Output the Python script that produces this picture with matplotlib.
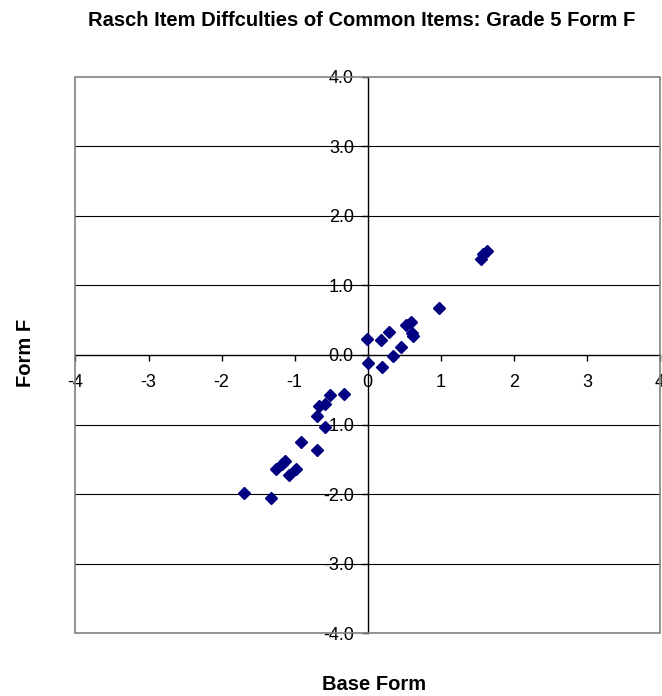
import matplotlib
matplotlib.use('Agg')
from matplotlib import pyplot as plt
from matplotlib.patches import Rectangle
from matplotlib.ticker import FormatStrFormatter, MultipleLocator

plt.rcParams['font.family'] = ['Liberation Sans', 'DejaVu Sans']
plt.rcParams['axes.unicode_minus'] = False

# * Item difficulties: base form vs form F
base_form = [-0.33, -0.51, -0.58, -0.67, -0.69, -0.58, -0.92, -0.70,
             -1.13, -1.17, -1.25, -0.98, -1.08, -1.69, -1.32,
             1.63, 1.58, 1.545, 0.98, 0.595, 0.53, 0.60, 0.62,
             0.29, 0.18, -0.015, 0.46, 0.34, 0.01, 0.19]
form_f = [-0.56, -0.58, -0.70, -0.74, -0.87, -1.04, -1.25, -1.365,
          -1.52, -1.57, -1.64, -1.64, -1.72, -1.99, -2.06,
          1.49, 1.45, 1.38, 0.675, 0.48, 0.43, 0.31, 0.27,
          0.33, 0.21, 0.235, 0.11, -0.01, -0.12, -0.17]

fig = plt.figure(figsize=(6.62, 6.96), dpi=100)
ax = fig.add_axes([0.114, 0.090, 0.883, 0.800])
ax.set_xlim(-4, 4)
ax.set_ylim(-4, 4)

# * Excel style: axes cross at zero, grey outer frame
ax.spines['left'].set_position('zero')
ax.spines['bottom'].set_position('zero')
ax.spines['right'].set_visible(False)
ax.spines['top'].set_visible(False)
for s in ('left', 'bottom'):
    ax.spines[s].set_color('black')
    ax.spines[s].set_linewidth(1)
ax.add_patch(Rectangle((0, 0), 1, 1, transform=ax.transAxes, fill=False,
                       edgecolor='#808080', linewidth=1.2, zorder=5, clip_on=False))

for yv in range(-3, 4):
    if yv != 0:
        ax.axhline(yv, color='black', linewidth=0.8, zorder=1)

ax.xaxis.set_major_locator(MultipleLocator(1))
ax.yaxis.set_major_locator(MultipleLocator(1))
ax.xaxis.set_major_formatter(FormatStrFormatter('%d'))
ax.yaxis.set_major_formatter(FormatStrFormatter('%.1f'))
ax.tick_params(axis='both', direction='out', length=4, width=1, labelsize=13)
ax.tick_params(axis='x', pad=10)
ax.tick_params(axis='y', pad=6)

ax.plot(base_form, form_f, linestyle='none', marker='D', markersize=6.5,
        color='#000080', zorder=6)

fig.text(0.547, 0.971, 'Rasch Item Diffculties of Common Items: Grade 5 Form F',
         ha='center', va='center', fontsize=14.5, fontweight='bold')
fig.text(0.038, 0.493, 'Form F', rotation=90, ha='center', va='center',
         fontsize=14.5, fontweight='bold')
fig.text(0.565, 0.017, 'Base Form', ha='center', va='center',
         fontsize=14.5, fontweight='bold')

fig.savefig('out.png', dpi=100)
